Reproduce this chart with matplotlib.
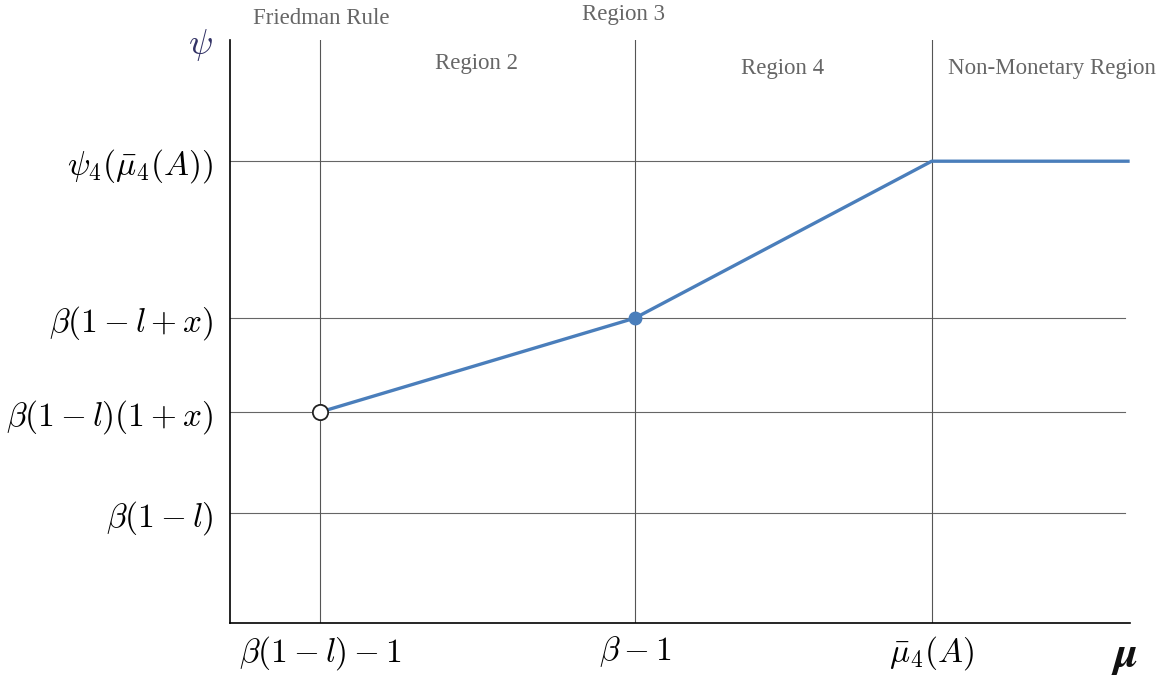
import matplotlib.pyplot as plt

plt.rcParams['mathtext.fontset'] = 'cm'

# positions on the mu axis (regime boundaries) and psi levels
x_ticks = [1.0, 4.5, 7.8]
x_labels = [r'$\beta(1-l)-1$', r'$\beta-1$', r'$\bar{\mu}_4(A)$']
y_ticks = [1.1, 2.11, 3.05, 4.62]
y_labels = [r'$\beta(1-l)$', r'$\beta(1-l)(1+x)$', r'$\beta(1-l+x)$', r'$\psi_4(\bar{\mu}_4(A))$']

# psi(mu) curve
mu = [1.0, 4.5, 7.8, 10.0]
psi = [2.11, 3.05, 4.62, 4.62]

regions = ['Friedman Rule', 'Region 2', 'Region 3', 'Region 4', 'Non-Monetary Region']
region_x = [1.02, 2.74, 4.37, 6.14, 9.14]
region_y = [6.05, 5.6, 6.09, 5.55, 5.55]

fig = plt.figure(figsize=(11.67, 6.8), dpi=100)
ax = fig.add_axes([0.197, 0.0838, 0.771, 0.857])
ax.set_xlim(0, 10)
ax.set_ylim(0, 5.83)

for s in ['top', 'right']:
    ax.spines[s].set_visible(False)
for s in ['left', 'bottom']:
    ax.spines[s].set_color('black')
    ax.spines[s].set_linewidth(1.2)

for yv in y_ticks:
    ax.plot([0, 9.95], [yv, yv], color='#666666', lw=0.8, zorder=1)
for xv in x_ticks:
    ax.plot([xv, xv], [0, 5.83], color='#555555', lw=0.8, zorder=1)

ax.plot(mu, psi, color='#4a7ebb', lw=2.4, zorder=3, solid_capstyle='butt')
ax.plot(mu[1], psi[1], 'o', color='#4a7ebb', ms=9, zorder=4)
ax.plot(mu[0], psi[0], 'o', mfc='white', mec='#222222', mew=1.3, ms=11, zorder=4)

ax.set_xticks(x_ticks)
ax.set_xticklabels(x_labels, fontsize=24)
ax.set_yticks(y_ticks)
ax.set_yticklabels(y_labels, fontsize=24)
ax.tick_params(axis='both', length=0)
ax.tick_params(axis='y', pad=12)
ax.tick_params(axis='x', pad=8)

for name, rx, ry in zip(regions, region_x, region_y):
    ax.text(rx, ry, name, ha='center', va='center', fontsize=16.5,
            family='Liberation Serif', color='#666666', clip_on=False)

ax.text(-0.33, 5.78, r'$\psi$', ha='center', va='center', fontsize=26, color='#333366', clip_on=False)
ax.text(9.94, -0.32, r'$\boldsymbol{\mu}$', ha='center', va='center',
        fontsize=32, color='#111111', clip_on=False)

fig.savefig('out.png', dpi=100)
